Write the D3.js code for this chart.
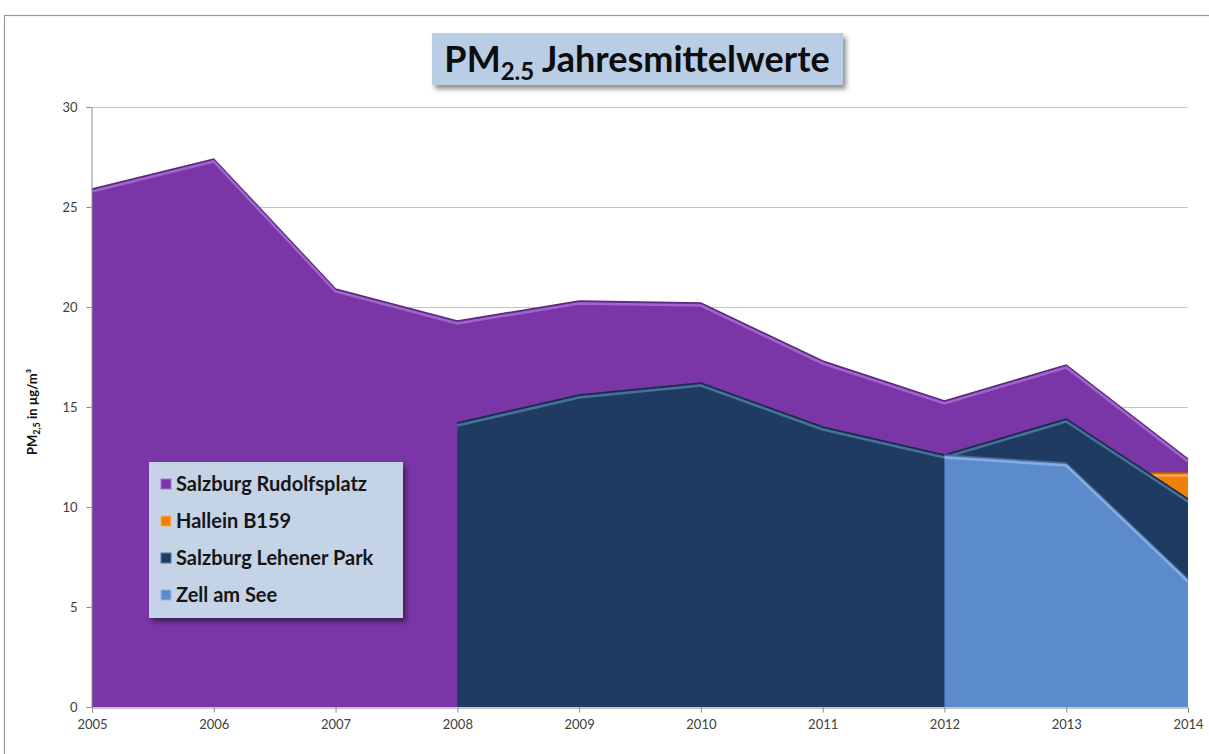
<html>
<head>
<style>
body { margin: 0; background: #fff; font-family: Lato, "Open Sans", sans-serif; }
svg text { font-family: Lato, "Open Sans", sans-serif; }
</style>
</head>
<body>
<script src="https://d3js.org/d3.v7.min.js"></script>
<script>
const
    width = 1209,
    height = 754;

const years = [2005, 2006, 2007, 2008, 2009, 2010, 2011, 2012, 2013, 2014];
const rudolfsplatz = [25.9, 27.4, 20.9, 19.3, 20.3, 20.2, 17.3, 15.3, 17.1, 12.4];
const hallein      = [null, null, null, null, null, null, null, null, 11.7, 11.7];
const lehener      = [null, null, null, 14.2, 15.6, 16.2, 14.0, 12.6, 14.4, 10.4];
const zell         = [null, null, null, null, null, null, null, 12.6, 12.2, 6.4];
const yTicks = [0, 5, 10, 15, 20, 25, 30];

const series = [
    {name: 'Salzburg Rudolfsplatz', values: rudolfsplatz, fill: '#7a35a6', edge: '#a872d4'},
    {name: 'Hallein B159', values: hallein, fill: '#f0800a', edge: '#ffb35c'},
    {name: 'Salzburg Lehener Park', values: lehener, fill: '#1f3b62', edge: '#4f7fa8'},
    {name: 'Zell am See', values: zell, fill: '#5b8bca', edge: '#8fb7e6'}
];

const svg = d3.select('body').append('svg')
    .attr('width', width)
    .attr('height', height);

const defs = svg.append('defs');
const shadow = defs.append('filter').attr('id', 'shadow')
    .attr('x', '-10%').attr('y', '-10%').attr('width', '130%').attr('height', '140%');
shadow.append('feDropShadow')
    .attr('dx', 3).attr('dy', 4).attr('stdDeviation', 2.5)
    .attr('flood-color', '#000').attr('flood-opacity', 0.45);

// chart frame
svg.append('rect')
    .attr('x', 4.5).attr('y', 15.5)
    .attr('width', width + 10).attr('height', height + 10)
    .attr('fill', 'none').attr('stroke', '#9a9a9a').attr('stroke-width', 1.2);

const x = d3.scaleLinear().domain([2005, 2014]).range([92, 1188]);
const y = d3.scaleLinear().domain([0, 30]).range([707, 107]);

// gridlines
svg.append('g')
    .selectAll('line')
    .data(yTicks.filter(d => d > 0))
  .enter().append('line')
    .attr('x1', x(2005)).attr('x2', x(2014))
    .attr('y1', d => y(d) + 0.5).attr('y2', d => y(d) + 0.5)
    .attr('stroke', '#c4c4c4');

const area = d3.area()
    .defined(d => d.v != null)
    .x(d => x(d.year))
    .y0(y(0))
    .y1(d => y(d.v));

const line = d3.line()
    .defined(d => d.v != null)
    .x(d => x(d.year))
    .y(d => y(d.v));

const areas = svg.append('g');
series.forEach(s => {
    const pts = years.map((yr, i) => ({year: yr, v: s.values[i]}));
    areas.append('path')
        .datum(pts)
        .attr('d', area)
        .attr('fill', s.fill);
    // bevel: dark outline plus light inner edge along the top
    areas.append('path')
        .datum(pts)
        .attr('d', line)
        .attr('fill', 'none')
        .attr('stroke', d3.color(s.fill).darker(0.8))
        .attr('stroke-width', 1.5);
    areas.append('path')
        .datum(pts)
        .attr('d', line)
        .attr('transform', 'translate(0,2.5)')
        .attr('fill', 'none')
        .attr('stroke', s.edge)
        .attr('stroke-opacity', 0.8)
        .attr('stroke-width', 2.5);
});

// axes
const xAxis = d3.axisBottom(x)
    .tickValues(years)
    .tickFormat(d3.format('d'))
    .tickSize(5)
    .tickPadding(7);
const gx = svg.append('g')
    .attr('transform', 'translate(0,' + (y(0) + 0.5) + ')')
    .call(xAxis);
gx.select('.domain').attr('stroke', '#8c8c8c');
gx.selectAll('.tick line').attr('stroke', '#8c8c8c');
gx.selectAll('text').attr('font-size', 13).attr('fill', '#404040');

const yAxis = d3.axisLeft(y)
    .tickValues(yTicks)
    .tickSize(5)
    .tickPadding(9);
const gy = svg.append('g')
    .attr('transform', 'translate(' + (x(2005) - 0.5) + ',0)')
    .call(yAxis);
gy.select('.domain').attr('stroke', '#8c8c8c');
gy.selectAll('.tick line').attr('stroke', '#8c8c8c');
gy.selectAll('text').attr('font-size', 13).attr('fill', '#404040');

// y axis title
const yTitle = svg.append('text')
    .attr('transform', 'translate(37,412) rotate(-90)')
    .attr('text-anchor', 'middle')
    .attr('font-size', 13)
    .attr('font-weight', 'bold')
    .attr('fill', '#111');
yTitle.append('tspan').text('PM');
yTitle.append('tspan').attr('font-size', 9).attr('dy', 3).text('2,5');
yTitle.append('tspan').attr('dy', -3).text(' in µg/m³');

// title box
svg.append('rect')
    .attr('x', 432).attr('y', 33)
    .attr('width', 411).attr('height', 52)
    .attr('fill', '#b9cde5')
    .attr('filter', 'url(#shadow)');
const title = svg.append('text')
    .attr('x', 637).attr('y', 72)
    .attr('text-anchor', 'middle')
    .attr('font-size', 36)
    .attr('font-weight', 'bold')
    .attr('fill', '#0d0d0d');
title.append('tspan').text('PM');
title.append('tspan').attr('font-size', 24).attr('dy', 8).text('2.5');
title.append('tspan').attr('dy', -8).text(' Jahresmittelwerte');

// legend
const legend = svg.append('g').attr('transform', 'translate(149,462)');
legend.append('rect')
    .attr('width', 254).attr('height', 156)
    .attr('fill', '#c5d3e6')
    .attr('filter', 'url(#shadow)');
const items = legend.selectAll('.item')
    .data(series)
  .enter().append('g')
    .attr('transform', (d, i) => 'translate(12,' + (22 + i * 37) + ')');
items.append('rect')
    .attr('x', 0).attr('y', -5)
    .attr('width', 10).attr('height', 10)
    .attr('fill', d => d.fill)
    .attr('stroke', d => d.edge)
    .attr('stroke-width', 1);
items.append('text')
    .attr('x', 15).attr('y', 7)
    .attr('font-size', 20)
    .attr('font-weight', 'bold')
    .attr('fill', '#161616')
    .text(d => d.name);
</script>
</body>
</html>
